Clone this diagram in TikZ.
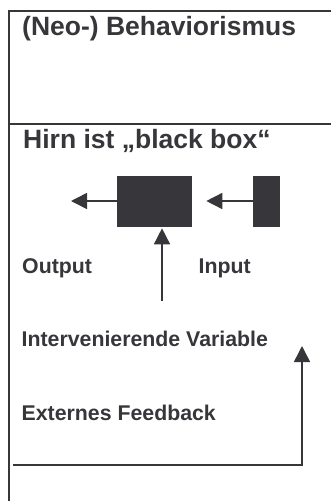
\documentclass[tikz,border=0pt]{standalone}
\usepackage{fontspec}
\setmainfont{Liberation Sans}
\usetikzlibrary{arrows.meta}
\definecolor{ink}{RGB}{55,54,58}
\begin{document}
\begin{tikzpicture}[x=1pt,y=-1pt,
  frame/.style={draw=ink,line width=2pt},
  blk/.style={fill=ink,draw=ink,line width=0.6pt,inner sep=0pt},
  conn/.style={draw=ink,line width=1.5pt,-{Triangle[length=16pt,width=16pt]}},
  title/.style={anchor=base west,inner sep=0pt,text=ink,font=\fontsize{26.5}{30}\selectfont\bfseries},
  lbl/.style={anchor=base west,inner sep=0pt,text=ink,font=\fontsize{21.3}{25}\selectfont\bfseries}]
\useasboundingbox (0,0) rectangle (330,501);
% frame
\coordinate (tl) at (9,11);
\coordinate (tr) at (331,11);
\coordinate (bl) at (9,502);
\coordinate (dl) at (9,124);
\coordinate (dr) at (331,124);
\draw[frame] (tr) -- (tl) -- (bl);
\draw[frame] (dl) -- (dr);
% titles
\node[title] (t1) at (22,35) {(Neo-) Behaviorismus};
\node[title] (t2) at (23,148) {Hirn ist „black box“};
% boxes
\node[blk,minimum width=74pt,minimum height=50pt] (big) at (154,201) {};
\node[blk,minimum width=26pt,minimum height=50pt] (small) at (266,201) {};
\coordinate (outend) at (71,201);
\draw[conn] (big.west) -- (outend);
\draw[conn] (small.west) -- (big.east) [shorten >=15pt];
\coordinate (ivstart) at (162,301);
\draw[conn,shorten >=2pt] (ivstart) -- (ivstart |- big.south);
% labels
\node[lbl] (out) at (22,273) {Output};
\node[lbl] (in) at (198.5,273) {Input};
\node[lbl] (iv) at (21.5,346) {Intervenierende Variable};
\node[lbl] (fb) at (21.5,420) {Externes Feedback};
% feedback loop
\coordinate (fbstart) at (13,465);
\coordinate (fbcorner) at (302,465);
\coordinate (fbend) at (302,346);
\draw[conn] (fbstart) -- (fbcorner) -- (fbend);
\end{tikzpicture}
\end{document}
